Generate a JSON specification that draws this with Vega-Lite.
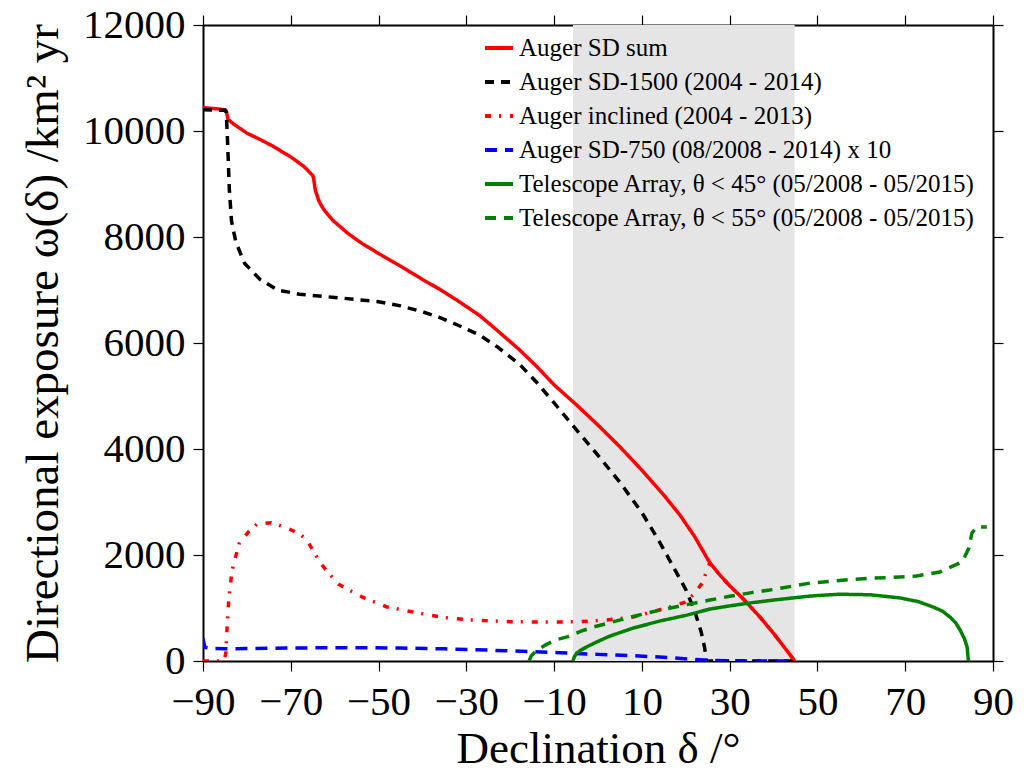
{
  "$schema": "https://vega.github.io/schema/vega-lite/v6.json",
  "width": 790,
  "height": 636,
  "autosize": {"type": "none"},
  "padding": {"left": 203, "top": 25, "right": 39, "bottom": 113},
  "background": "white",
  "config": {
    "font": "Liberation Serif",
    "view": {"stroke": null},
    "axis": {
      "grid": false,
      "domainColor": "black",
      "domainWidth": 2,
      "tickColor": "black",
      "tickWidth": 1.2,
      "tickSize": 10,
      "labelFont": "Liberation Serif",
      "labelFontSize": 41,
      "labelColor": "black",
      "titleFont": "Liberation Serif",
      "titleFontSize": 45,
      "titleFontWeight": "normal",
      "titleColor": "black"
    }
  },
  "datasets": {
    "band": [{"x0": -5.7, "x1": 44.8}],
    "curves": [
      {"s": "Auger SD sum", "x": -90, "y": 10440},
      {"s": "Auger SD sum", "x": -87, "y": 10420},
      {"s": "Auger SD sum", "x": -85, "y": 10400},
      {"s": "Auger SD sum", "x": -84.7, "y": 10380},
      {"s": "Auger SD sum", "x": -84.3, "y": 10220},
      {"s": "Auger SD sum", "x": -83, "y": 10130},
      {"s": "Auger SD sum", "x": -80, "y": 9960},
      {"s": "Auger SD sum", "x": -77, "y": 9840},
      {"s": "Auger SD sum", "x": -74, "y": 9710},
      {"s": "Auger SD sum", "x": -70, "y": 9510},
      {"s": "Auger SD sum", "x": -67, "y": 9330},
      {"s": "Auger SD sum", "x": -65, "y": 9160},
      {"s": "Auger SD sum", "x": -64.8, "y": 9110},
      {"s": "Auger SD sum", "x": -64.4, "y": 8880},
      {"s": "Auger SD sum", "x": -63.6, "y": 8680},
      {"s": "Auger SD sum", "x": -62.5, "y": 8520},
      {"s": "Auger SD sum", "x": -60.5, "y": 8320},
      {"s": "Auger SD sum", "x": -57, "y": 8070},
      {"s": "Auger SD sum", "x": -54, "y": 7890},
      {"s": "Auger SD sum", "x": -50, "y": 7690},
      {"s": "Auger SD sum", "x": -45, "y": 7450},
      {"s": "Auger SD sum", "x": -40, "y": 7200},
      {"s": "Auger SD sum", "x": -36, "y": 7010},
      {"s": "Auger SD sum", "x": -32, "y": 6800},
      {"s": "Auger SD sum", "x": -27, "y": 6520},
      {"s": "Auger SD sum", "x": -23, "y": 6240},
      {"s": "Auger SD sum", "x": -18, "y": 5880},
      {"s": "Auger SD sum", "x": -14, "y": 5560},
      {"s": "Auger SD sum", "x": -10, "y": 5210},
      {"s": "Auger SD sum", "x": -5, "y": 4840},
      {"s": "Auger SD sum", "x": 0, "y": 4450},
      {"s": "Auger SD sum", "x": 5, "y": 4040},
      {"s": "Auger SD sum", "x": 10, "y": 3600},
      {"s": "Auger SD sum", "x": 15, "y": 3130},
      {"s": "Auger SD sum", "x": 18.7, "y": 2750},
      {"s": "Auger SD sum", "x": 22, "y": 2350},
      {"s": "Auger SD sum", "x": 24.5, "y": 1990},
      {"s": "Auger SD sum", "x": 25, "y": 1920},
      {"s": "Auger SD sum", "x": 25.5, "y": 1850},
      {"s": "Auger SD sum", "x": 27.8, "y": 1620},
      {"s": "Auger SD sum", "x": 30, "y": 1420},
      {"s": "Auger SD sum", "x": 33, "y": 1180},
      {"s": "Auger SD sum", "x": 37, "y": 820},
      {"s": "Auger SD sum", "x": 40, "y": 520},
      {"s": "Auger SD sum", "x": 43, "y": 200},
      {"s": "Auger SD sum", "x": 44.8, "y": 0},

      {"s": "Auger SD-1500 (2004 - 2014)", "x": -90, "y": 10400},
      {"s": "Auger SD-1500 (2004 - 2014)", "x": -85, "y": 10390},
      {"s": "Auger SD-1500 (2004 - 2014)", "x": -84.7, "y": 10350},
      {"s": "Auger SD-1500 (2004 - 2014)", "x": -84.4, "y": 9800},
      {"s": "Auger SD-1500 (2004 - 2014)", "x": -84, "y": 8900},
      {"s": "Auger SD-1500 (2004 - 2014)", "x": -83.5, "y": 8300},
      {"s": "Auger SD-1500 (2004 - 2014)", "x": -82.5, "y": 7900},
      {"s": "Auger SD-1500 (2004 - 2014)", "x": -80.5, "y": 7500},
      {"s": "Auger SD-1500 (2004 - 2014)", "x": -77, "y": 7200},
      {"s": "Auger SD-1500 (2004 - 2014)", "x": -73, "y": 7000},
      {"s": "Auger SD-1500 (2004 - 2014)", "x": -68, "y": 6920},
      {"s": "Auger SD-1500 (2004 - 2014)", "x": -60, "y": 6860},
      {"s": "Auger SD-1500 (2004 - 2014)", "x": -50, "y": 6780},
      {"s": "Auger SD-1500 (2004 - 2014)", "x": -45, "y": 6700},
      {"s": "Auger SD-1500 (2004 - 2014)", "x": -40, "y": 6590},
      {"s": "Auger SD-1500 (2004 - 2014)", "x": -36, "y": 6480},
      {"s": "Auger SD-1500 (2004 - 2014)", "x": -32, "y": 6340},
      {"s": "Auger SD-1500 (2004 - 2014)", "x": -27, "y": 6150},
      {"s": "Auger SD-1500 (2004 - 2014)", "x": -23, "y": 5930},
      {"s": "Auger SD-1500 (2004 - 2014)", "x": -18, "y": 5610},
      {"s": "Auger SD-1500 (2004 - 2014)", "x": -14, "y": 5260},
      {"s": "Auger SD-1500 (2004 - 2014)", "x": -10, "y": 4870},
      {"s": "Auger SD-1500 (2004 - 2014)", "x": -5, "y": 4370},
      {"s": "Auger SD-1500 (2004 - 2014)", "x": 0, "y": 3880},
      {"s": "Auger SD-1500 (2004 - 2014)", "x": 5, "y": 3370},
      {"s": "Auger SD-1500 (2004 - 2014)", "x": 10, "y": 2800},
      {"s": "Auger SD-1500 (2004 - 2014)", "x": 14, "y": 2250},
      {"s": "Auger SD-1500 (2004 - 2014)", "x": 17, "y": 1800},
      {"s": "Auger SD-1500 (2004 - 2014)", "x": 20, "y": 1350},
      {"s": "Auger SD-1500 (2004 - 2014)", "x": 22, "y": 950},
      {"s": "Auger SD-1500 (2004 - 2014)", "x": 23.5, "y": 550},
      {"s": "Auger SD-1500 (2004 - 2014)", "x": 24.3, "y": 250},
      {"s": "Auger SD-1500 (2004 - 2014)", "x": 24.7, "y": 0},
      {"s": "Auger SD-1500 (2004 - 2014)", "x": 44.8, "y": 0},

      {"s": "Auger inclined (2004 - 2013)", "x": -90, "y": 0},
      {"s": "Auger inclined (2004 - 2013)", "x": -85.2, "y": 0},
      {"s": "Auger inclined (2004 - 2013)", "x": -84.8, "y": 150},
      {"s": "Auger inclined (2004 - 2013)", "x": -84.5, "y": 660},
      {"s": "Auger inclined (2004 - 2013)", "x": -84.1, "y": 1190},
      {"s": "Auger inclined (2004 - 2013)", "x": -83.4, "y": 1700},
      {"s": "Auger inclined (2004 - 2013)", "x": -81.8, "y": 2210},
      {"s": "Auger inclined (2004 - 2013)", "x": -79.5, "y": 2450},
      {"s": "Auger inclined (2004 - 2013)", "x": -77.7, "y": 2585},
      {"s": "Auger inclined (2004 - 2013)", "x": -74.5, "y": 2610},
      {"s": "Auger inclined (2004 - 2013)", "x": -71.5, "y": 2530},
      {"s": "Auger inclined (2004 - 2013)", "x": -68, "y": 2400},
      {"s": "Auger inclined (2004 - 2013)", "x": -66.3, "y": 2280},
      {"s": "Auger inclined (2004 - 2013)", "x": -63.3, "y": 1850},
      {"s": "Auger inclined (2004 - 2013)", "x": -59.2, "y": 1450},
      {"s": "Auger inclined (2004 - 2013)", "x": -53.8, "y": 1210},
      {"s": "Auger inclined (2004 - 2013)", "x": -48.1, "y": 1020},
      {"s": "Auger inclined (2004 - 2013)", "x": -40.6, "y": 900},
      {"s": "Auger inclined (2004 - 2013)", "x": -35, "y": 820},
      {"s": "Auger inclined (2004 - 2013)", "x": -29.2, "y": 775},
      {"s": "Auger inclined (2004 - 2013)", "x": -20, "y": 740},
      {"s": "Auger inclined (2004 - 2013)", "x": -10, "y": 735},
      {"s": "Auger inclined (2004 - 2013)", "x": -4.6, "y": 740},
      {"s": "Auger inclined (2004 - 2013)", "x": 2, "y": 775},
      {"s": "Auger inclined (2004 - 2013)", "x": 8, "y": 830},
      {"s": "Auger inclined (2004 - 2013)", "x": 16.4, "y": 1020},
      {"s": "Auger inclined (2004 - 2013)", "x": 19.8, "y": 1110},
      {"s": "Auger inclined (2004 - 2013)", "x": 22.1, "y": 1280},
      {"s": "Auger inclined (2004 - 2013)", "x": 23.9, "y": 1490},
      {"s": "Auger inclined (2004 - 2013)", "x": 25, "y": 1760},
      {"s": "Auger inclined (2004 - 2013)", "x": 25.5, "y": 1850},
      {"s": "Auger inclined (2004 - 2013)", "x": 27.8, "y": 1620},
      {"s": "Auger inclined (2004 - 2013)", "x": 30, "y": 1420},
      {"s": "Auger inclined (2004 - 2013)", "x": 33, "y": 1180},
      {"s": "Auger inclined (2004 - 2013)", "x": 37, "y": 820},
      {"s": "Auger inclined (2004 - 2013)", "x": 40, "y": 520},
      {"s": "Auger inclined (2004 - 2013)", "x": 43, "y": 200},
      {"s": "Auger inclined (2004 - 2013)", "x": 44.8, "y": 0},

      {"s": "Auger SD-750 (08/2008 - 2014) x 10", "x": -90, "y": 430},
      {"s": "Auger SD-750 (08/2008 - 2014) x 10", "x": -89.6, "y": 260},
      {"s": "Auger SD-750 (08/2008 - 2014) x 10", "x": -88, "y": 235},
      {"s": "Auger SD-750 (08/2008 - 2014) x 10", "x": -85, "y": 230},
      {"s": "Auger SD-750 (08/2008 - 2014) x 10", "x": -75, "y": 240},
      {"s": "Auger SD-750 (08/2008 - 2014) x 10", "x": -65, "y": 248},
      {"s": "Auger SD-750 (08/2008 - 2014) x 10", "x": -55, "y": 250},
      {"s": "Auger SD-750 (08/2008 - 2014) x 10", "x": -45, "y": 245},
      {"s": "Auger SD-750 (08/2008 - 2014) x 10", "x": -35, "y": 230},
      {"s": "Auger SD-750 (08/2008 - 2014) x 10", "x": -25, "y": 205},
      {"s": "Auger SD-750 (08/2008 - 2014) x 10", "x": -15, "y": 175},
      {"s": "Auger SD-750 (08/2008 - 2014) x 10", "x": -8.7, "y": 155},
      {"s": "Auger SD-750 (08/2008 - 2014) x 10", "x": 0, "y": 125},
      {"s": "Auger SD-750 (08/2008 - 2014) x 10", "x": 6.6, "y": 105},
      {"s": "Auger SD-750 (08/2008 - 2014) x 10", "x": 16.4, "y": 65},
      {"s": "Auger SD-750 (08/2008 - 2014) x 10", "x": 21, "y": 35},
      {"s": "Auger SD-750 (08/2008 - 2014) x 10", "x": 25, "y": 15},
      {"s": "Auger SD-750 (08/2008 - 2014) x 10", "x": 30, "y": 5},
      {"s": "Auger SD-750 (08/2008 - 2014) x 10", "x": 35, "y": 0},
      {"s": "Auger SD-750 (08/2008 - 2014) x 10", "x": 44.8, "y": 0},

      {"s": "Telescope Array, θ < 45° (05/2008 - 05/2015)", "x": -5.7, "y": 0},
      {"s": "Telescope Array, θ < 45° (05/2008 - 05/2015)", "x": -5.4, "y": 80},
      {"s": "Telescope Array, θ < 45° (05/2008 - 05/2015)", "x": -4.8, "y": 150},
      {"s": "Telescope Array, θ < 45° (05/2008 - 05/2015)", "x": -4, "y": 200},
      {"s": "Telescope Array, θ < 45° (05/2008 - 05/2015)", "x": -2.5, "y": 270},
      {"s": "Telescope Array, θ < 45° (05/2008 - 05/2015)", "x": 0, "y": 370},
      {"s": "Telescope Array, θ < 45° (05/2008 - 05/2015)", "x": 2.7, "y": 470},
      {"s": "Telescope Array, θ < 45° (05/2008 - 05/2015)", "x": 8, "y": 620},
      {"s": "Telescope Array, θ < 45° (05/2008 - 05/2015)", "x": 14.1, "y": 755},
      {"s": "Telescope Array, θ < 45° (05/2008 - 05/2015)", "x": 20, "y": 860},
      {"s": "Telescope Array, θ < 45° (05/2008 - 05/2015)", "x": 25.5, "y": 980},
      {"s": "Telescope Array, θ < 45° (05/2008 - 05/2015)", "x": 30, "y": 1040},
      {"s": "Telescope Array, θ < 45° (05/2008 - 05/2015)", "x": 34.6, "y": 1095},
      {"s": "Telescope Array, θ < 45° (05/2008 - 05/2015)", "x": 40, "y": 1150},
      {"s": "Telescope Array, θ < 45° (05/2008 - 05/2015)", "x": 48.3, "y": 1225},
      {"s": "Telescope Array, θ < 45° (05/2008 - 05/2015)", "x": 55, "y": 1260},
      {"s": "Telescope Array, θ < 45° (05/2008 - 05/2015)", "x": 62, "y": 1250},
      {"s": "Telescope Array, θ < 45° (05/2008 - 05/2015)", "x": 68.8, "y": 1190},
      {"s": "Telescope Array, θ < 45° (05/2008 - 05/2015)", "x": 73, "y": 1120},
      {"s": "Telescope Array, θ < 45° (05/2008 - 05/2015)", "x": 76.3, "y": 1020},
      {"s": "Telescope Array, θ < 45° (05/2008 - 05/2015)", "x": 78.5, "y": 940},
      {"s": "Telescope Array, θ < 45° (05/2008 - 05/2015)", "x": 80.2, "y": 830},
      {"s": "Telescope Array, θ < 45° (05/2008 - 05/2015)", "x": 81.5, "y": 720},
      {"s": "Telescope Array, θ < 45° (05/2008 - 05/2015)", "x": 82.5, "y": 585},
      {"s": "Telescope Array, θ < 45° (05/2008 - 05/2015)", "x": 83.5, "y": 420},
      {"s": "Telescope Array, θ < 45° (05/2008 - 05/2015)", "x": 84.1, "y": 264},
      {"s": "Telescope Array, θ < 45° (05/2008 - 05/2015)", "x": 84.4, "y": 0},

      {"s": "Telescope Array, θ < 55° (05/2008 - 05/2015)", "x": -15.7, "y": 0},
      {"s": "Telescope Array, θ < 55° (05/2008 - 05/2015)", "x": -15.2, "y": 100},
      {"s": "Telescope Array, θ < 55° (05/2008 - 05/2015)", "x": -14, "y": 200},
      {"s": "Telescope Array, θ < 55° (05/2008 - 05/2015)", "x": -12, "y": 300},
      {"s": "Telescope Array, θ < 55° (05/2008 - 05/2015)", "x": -10, "y": 390},
      {"s": "Telescope Array, θ < 55° (05/2008 - 05/2015)", "x": -7, "y": 455},
      {"s": "Telescope Array, θ < 55° (05/2008 - 05/2015)", "x": -4, "y": 560},
      {"s": "Telescope Array, θ < 55° (05/2008 - 05/2015)", "x": -1.1, "y": 640},
      {"s": "Telescope Array, θ < 55° (05/2008 - 05/2015)", "x": 3, "y": 730},
      {"s": "Telescope Array, θ < 55° (05/2008 - 05/2015)", "x": 8, "y": 840},
      {"s": "Telescope Array, θ < 55° (05/2008 - 05/2015)", "x": 14.1, "y": 960},
      {"s": "Telescope Array, θ < 55° (05/2008 - 05/2015)", "x": 20, "y": 1060},
      {"s": "Telescope Array, θ < 55° (05/2008 - 05/2015)", "x": 25.5, "y": 1150},
      {"s": "Telescope Array, θ < 55° (05/2008 - 05/2015)", "x": 30, "y": 1220},
      {"s": "Telescope Array, θ < 55° (05/2008 - 05/2015)", "x": 35, "y": 1290},
      {"s": "Telescope Array, θ < 55° (05/2008 - 05/2015)", "x": 40, "y": 1350},
      {"s": "Telescope Array, θ < 55° (05/2008 - 05/2015)", "x": 48.3, "y": 1470},
      {"s": "Telescope Array, θ < 55° (05/2008 - 05/2015)", "x": 55, "y": 1520},
      {"s": "Telescope Array, θ < 55° (05/2008 - 05/2015)", "x": 62, "y": 1560},
      {"s": "Telescope Array, θ < 55° (05/2008 - 05/2015)", "x": 68.8, "y": 1585},
      {"s": "Telescope Array, θ < 55° (05/2008 - 05/2015)", "x": 72.6, "y": 1605},
      {"s": "Telescope Array, θ < 55° (05/2008 - 05/2015)", "x": 77.9, "y": 1680},
      {"s": "Telescope Array, θ < 55° (05/2008 - 05/2015)", "x": 80, "y": 1760},
      {"s": "Telescope Array, θ < 55° (05/2008 - 05/2015)", "x": 83, "y": 1870},
      {"s": "Telescope Array, θ < 55° (05/2008 - 05/2015)", "x": 84.5, "y": 2130},
      {"s": "Telescope Array, θ < 55° (05/2008 - 05/2015)", "x": 85.2, "y": 2415},
      {"s": "Telescope Array, θ < 55° (05/2008 - 05/2015)", "x": 86.3, "y": 2530},
      {"s": "Telescope Array, θ < 55° (05/2008 - 05/2015)", "x": 88.6, "y": 2530}
    ]
  },
  "layer": [
    {
      "data": {"name": "band"},
      "mark": {"type": "rect", "color": "#e5e5e5", "opacity": 1},
      "encoding": {
        "x": {"field": "x0", "type": "quantitative", "scale": {"domain": [-90, 90], "nice": false, "zero": false}, "axis": null},
        "x2": {"field": "x1"}
      }
    },
    {
      "data": {"name": "curves"},
      "mark": {"type": "line", "strokeWidth": 3.5, "clip": true},
      "encoding": {
        "x": {
          "field": "x", "type": "quantitative",
          "scale": {"domain": [-90, 90], "nice": false, "zero": false},
          "axis": {"orient": "bottom", "values": [-90, -70, -50, -30, -10, 10, 30, 50, 70, 90], "format": "d", "labelPadding": 11, "title": "Declination δ /°", "titlePadding": 4, "labelFlush": false}
        },
        "y": {
          "field": "y", "type": "quantitative",
          "scale": {"domain": [0, 12000], "nice": false},
          "axis": {"orient": "left", "values": [0, 2000, 4000, 6000, 8000, 10000, 12000], "format": "d", "labelPadding": 8, "title": "Directional exposure ω(δ) /km² yr", "titleFontSize": 47, "titleAngle": 270, "titleX": -146, "titleY": 318, "titleAlign": "center", "titleBaseline": "alphabetic"}
        },
        "color": {
          "field": "s", "type": "nominal",
          "scale": {
            "domain": ["Auger SD sum", "Auger SD-1500 (2004 - 2014)", "Auger inclined (2004 - 2013)", "Auger SD-750 (08/2008 - 2014) x 10", "Telescope Array, θ < 45° (05/2008 - 05/2015)", "Telescope Array, θ < 55° (05/2008 - 05/2015)"],
            "range": ["#ff0000", "#000000", "#ff0000", "#0000ff", "#008000", "#008000"]
          },
          "legend": {
            "title": null,
            "orient": "none",
            "legendX": 280,
            "legendY": 7,
            "padding": 0,
            "symbolType": "stroke",
            "symbolSize": 784,
            "symbolStrokeWidth": 4,
            "labelFont": "Liberation Serif",
            "labelFontSize": 25,
            "labelColor": "black",
            "labelLimit": 700,
            "labelOffset": 4,
            "rowPadding": 5
          }
        },
        "strokeDash": {
          "field": "s", "type": "nominal",
          "scale": {
            "domain": ["Auger SD sum", "Auger SD-1500 (2004 - 2014)", "Auger inclined (2004 - 2013)", "Auger SD-750 (08/2008 - 2014) x 10", "Telescope Array, θ < 45° (05/2008 - 05/2015)", "Telescope Array, θ < 55° (05/2008 - 05/2015)"],
            "range": [[1, 0], [9, 7], [6, 8, 2, 9], [12, 8], [1, 0], [11, 8]]
          },
          "legend": null
        }
      }
    },
    {
      "data": {"name": "curves"},
      "mark": {"type": "point", "opacity": 0},
      "encoding": {
        "x": {"field": "x", "type": "quantitative", "scale": {"domain": [-90, 90], "nice": false, "zero": false},
          "axis": {"orient": "top", "values": [-90, -70, -50, -30, -10, 10, 30, 50, 70, 90], "labels": false, "title": null}},
        "y": {"field": "y", "type": "quantitative", "scale": {"domain": [0, 12000], "nice": false},
          "axis": {"orient": "right", "values": [0, 2000, 4000, 6000, 8000, 10000, 12000], "labels": false, "title": null}}
      }
    }
  ],
  "resolve": {"axis": {"x": "independent", "y": "independent"}}
}
